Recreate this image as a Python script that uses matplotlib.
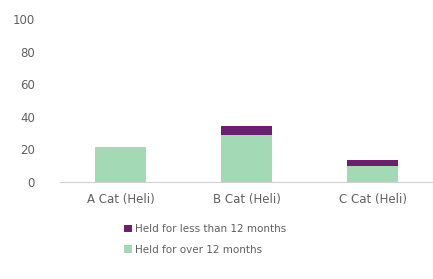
import matplotlib
matplotlib.use("Agg")
import matplotlib.pyplot as plt

categories = ["A Cat (Heli)", "B Cat (Heli)", "C Cat (Heli)"]
over_12 = [21.5, 28.5, 9.5]
less_12 = [0, 5.5, 3.5]
yticks = [0, 20, 40, 60, 80, 100]

green = "#a3d9b5"
purple = "#6b1f6e"
grey = "#606060"

plt.rcParams['font.family'] = ['DejaVu Sans']

fig = plt.figure(figsize=(4.33, 2.79), dpi=100)
ax = fig.add_axes([0.1386, 0.349, 0.8614, 0.583])
x = range(len(categories))
ax.bar(x, over_12, width=0.4, color=green, label="Held for over 12 months")
ax.bar(x, less_12, width=0.4, bottom=over_12, color=purple, label="Held for less than 12 months")
ax.set_xlim(-0.48, 2.48)
ax.set_ylim(0, 100)
ax.set_yticks(yticks)
ax.set_xticks(list(x))
ax.set_xticklabels(categories)
for s in ["top", "right", "left"]:
    ax.spines[s].set_visible(False)
ax.spines["bottom"].set_color("#d0d0d0")
ax.tick_params(axis="both", length=0, colors=grey, labelsize=8.5)
ax.tick_params(axis="y", pad=18)
ax.tick_params(axis="x", pad=8)

h, l = ax.get_legend_handles_labels()
fig.legend(h[::-1], l[::-1], loc="upper left", bbox_to_anchor=(0.275, 0.215),
           frameon=False, fontsize=7.5, labelcolor=grey, handlelength=0.7,
           handleheight=0.7, handletextpad=0.3, labelspacing=1.0, borderpad=0)
fig.savefig("out.png", dpi=100, facecolor="white")
